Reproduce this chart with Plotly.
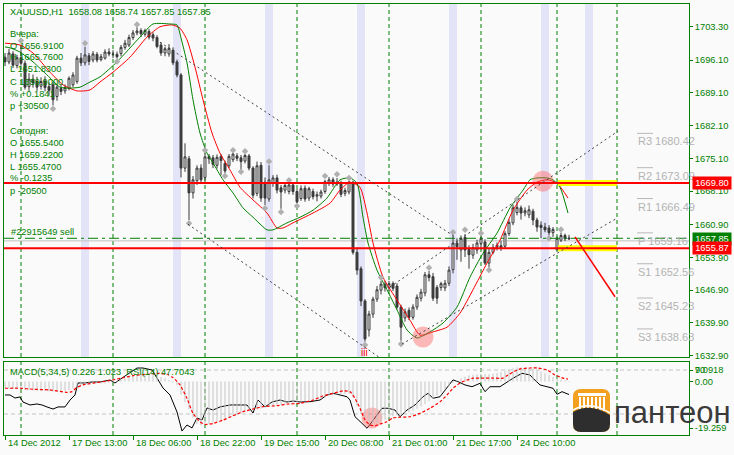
import plotly.graph_objects as go

# ---------------- data ----------------
bar_index = list(range(142))
opens = [1696.7,1695.7,1697.4,1694.9,1696.6,1695.4,1690.4,1692.0,1691.5,1690.5,
         1691.6,1690.4,1690.8,1688.3,1690.0,1689.5,1690.0,1690.8,1691.5,1696.5,
         1695.5,1697.0,1696.1,1697.3,1696.2,1696.5,1697.8,1697.4,1697.3,1697.5,
         1698.8,1699.3,1700.9,1701.9,1702.4,1701.6,1702.2,1701.5,1700.9,1699.3,
         1697.6,1697.4,1698.2,1695.7,1692.9,1673.0,1675.0,1667.7,1670.3,1673.0,
         1671.0,1675.5,1675.2,1673.6,1675.5,1674.0,1673.5,1674.8,1675.6,1675.2,
         1674.5,1675.6,1673.0,1667.6,1673.6,1670.0,1666.4,1669.9,1670.9,1668.8,
         1668.3,1668.0,1669.4,1668.0,1666.5,1668.7,1666.6,1668.0,1667.0,1667.0,
         1668.0,1669.8,1670.5,1669.6,1669.9,1667.6,1667.9,1670.0,1655.0,1651.5,
         1644.6,1638.4,1641.8,1645.0,1646.9,1648.2,1647.4,1648.3,1647.8,1643.3,
         1641.0,1642.6,1641.1,1643.3,1645.2,1646.3,1650.2,1649.8,1647.5,1647.5,
         1647.4,1648.4,1651.3,1657.0,1655.5,1658.2,1655.6,1654.4,1655.5,1656.91,
         1657.2,1652.7,1655.0,1656.1,1656.4,1656.3,1659.0,1661.3,1663.5,1664.5,
         1663.4,1663.0,1663.8,1661.9,1660.8,1660.4,1660.2,1659.2,1655.54,1657.6,
         1658.6,1658.08]
highs = [1697.6,1698.5,1698.0,1697.2,1699.3,1696.0,1693.3,1693.0,1692.5,1692.4,
         1692.6,1691.3,1691.4,1691.0,1690.8,1690.9,1692.6,1693.5,1697.0,1697.6,
         1698.9,1697.6,1698.0,1697.8,1697.4,1698.4,1698.6,1698.2,1697.9,1699.3,
         1700.4,1701.5,1702.5,1703.1,1702.9,1702.8,1702.7,1702.0,1701.4,1699.9,
         1698.9,1699.5,1698.8,1696.2,1693.3,1678.3,1675.6,1671.3,1673.6,1673.8,
         1676.2,1676.0,1675.8,1675.9,1676.0,1674.6,1676.0,1676.2,1676.2,1675.8,
         1676.0,1676.0,1673.4,1674.4,1674.3,1671.0,1673.6,1671.5,1671.6,1669.4,
         1669.9,1669.8,1670.0,1668.5,1669.3,1669.3,1669.0,1668.6,1668.0,1668.4,
         1670.5,1671.1,1671.0,1670.9,1670.3,1668.8,1670.3,1670.3,1656.0,1652.0,
         1645.0,1642.5,1645.5,1647.8,1648.9,1648.9,1648.9,1648.8,1648.4,1643.8,
         1643.0,1643.2,1643.9,1646.0,1647.2,1650.8,1651.0,1650.6,1648.0,1648.7,
         1649.1,1652.0,1658.5,1658.0,1658.6,1658.9,1656.5,1656.8,1657.7,1658.4,
         1657.8,1655.8,1656.8,1657.1,1657.5,1659.5,1662.0,1665.2,1665.76,1665.0,
         1664.6,1665.0,1664.3,1662.4,1661.6,1661.3,1660.8,1660.4,1658.4,1659.22,
         1659.0,1658.74]
lows = [1694.8,1695.2,1694.4,1694.3,1694.9,1689.8,1689.5,1690.2,1689.5,1689.8,
        1689.4,1688.5,1686.4,1687.4,1688.6,1688.9,1689.6,1690.3,1691.0,1694.8,
        1694.9,1695.0,1695.6,1695.6,1695.8,1696.2,1696.9,1696.5,1696.4,1696.9,
        1698.3,1698.9,1700.4,1701.4,1701.0,1701.1,1700.5,1700.1,1698.6,1697.0,
        1696.9,1696.8,1695.0,1692.4,1671.0,1672.2,1661.9,1666.5,1669.4,1669.8,
        1670.3,1673.9,1673.0,1672.9,1671.5,1671.9,1673.0,1674.3,1674.5,1672.8,
        1674.0,1672.5,1666.5,1667.0,1665.8,1665.1,1665.8,1669.0,1667.6,1664.3,
        1667.6,1667.4,1667.3,1665.5,1666.0,1665.8,1666.0,1666.3,1665.9,1666.5,
        1667.5,1669.2,1669.0,1669.2,1666.8,1667.0,1667.4,1654.5,1650.2,1643.5,
        1635.9,1637.0,1641.0,1644.4,1646.0,1646.6,1646.8,1646.7,1642.8,1636.1,
        1640.2,1640.5,1640.6,1642.7,1644.5,1645.6,1648.8,1644.6,1644.0,1646.8,
        1646.7,1647.8,1650.5,1653.4,1653.0,1654.0,1651.5,1653.6,1654.7,1655.6,
        1652.3,1651.83,1654.6,1655.4,1655.3,1655.8,1658.5,1660.8,1662.9,1662.0,
        1662.7,1662.3,1660.8,1659.4,1658.0,1659.3,1658.6,1658.3,1655.47,1657.2,
        1657.4,1657.85]
closes = [1695.7,1697.6,1695.0,1696.6,1695.4,1690.3,1692.0,1691.2,1690.3,1691.5,
          1690.2,1689.6,1687.6,1690.3,1689.4,1690.2,1692.2,1692.9,1696.5,1695.5,
          1697.2,1695.8,1697.4,1696.1,1696.8,1697.8,1697.4,1697.3,1696.8,1698.8,
          1699.7,1700.9,1701.9,1702.3,1701.7,1702.4,1701.0,1700.8,1699.0,1697.6,
          1698.5,1698.6,1695.5,1692.9,1673.0,1675.4,1667.7,1670.5,1673.0,1670.5,
          1675.4,1675.0,1673.8,1675.3,1674.6,1672.4,1675.5,1676.0,1675.1,1674.4,
          1675.7,1673.0,1667.2,1673.5,1666.6,1666.6,1670.5,1670.9,1668.3,1667.9,
          1669.3,1669.4,1668.0,1665.8,1668.6,1666.4,1668.6,1666.9,1667.3,1667.9,
          1670.1,1670.5,1669.6,1670.0,1667.4,1668.2,1670.0,1655.0,1651.2,1644.6,
          1636.5,1641.8,1645.0,1647.0,1648.2,1647.4,1648.3,1647.3,1643.3,1639.0,
          1642.3,1641.1,1643.3,1645.4,1646.5,1650.2,1649.6,1645.2,1645.2,1648.3,
          1648.4,1651.2,1657.0,1656.2,1658.0,1655.5,1654.5,1656.0,1657.0,1658.0,
          1652.7,1655.0,1656.0,1656.5,1656.0,1659.0,1661.4,1664.5,1664.6,1663.4,
          1663.9,1664.1,1661.9,1660.4,1660.3,1659.8,1659.2,1659.9,1658.0,1658.6,
          1657.9,1657.85]

ma_fast_x = [0,1.25,3.75,7,11.25,13.75,16.25,18.75,21.25,23.75,28,33.75,37,41.25,43,
             44,45.5,47,48.75,50.5,52,54.5,57,59.5,62,65.5,67,70.5,73.75,77,80.5,83.75,
             86.25,88,89.5,90.75,93,95.5,98,100.5,103,106.25,109.5,113,116.25,119.5,
             123,126.25,129.5,131.25,133,135.5,137,138.75,140.75]
ma_fast_y = [1698.9,1698.7,1697.8,1695.7,1692.3,1690.3,1690.1,1690.3,1691.4,1692.5,
             1695.7,1701.0,1703.8,1703.8,1703.6,1700.8,1695.5,1687.6,1680.5,1676.2,
             1674.1,1670.5,1667.7,1664.5,1662.5,1659.8,1659.8,1661.3,1662.5,1664.0,
             1666.6,1670.5,1670.9,1669.8,1662.5,1657.0,1651.2,1647.0,1642.7,1638.4,
             1636.7,1638.0,1639.9,1643.3,1649.7,1654.8,1659.1,1664.5,1668.3,1670.5,
             1670.9,1670.9,1670.5,1668.9,1663.4]
ma_slow_x = [0,3.75,7,11.25,14.5,18,21.25,23.75,27,31.25,35.5,38.75,41.75,43.75,45.5,
             47.5,49.5,51.75,53.75,56.25,58.75,62,65.5,68,69.5,72,77,81.25,83.75,86.25,
             88.75,90.5,92,94.5,98,101.25,103.75,107,110.5,113.75,117,120.5,123.75,127,
             130.5,133,135.5,138,140.75]
ma_slow_y = [1699.7,1699.3,1697.6,1693.5,1690.8,1689.5,1689.7,1691.4,1693.5,1696.7,
             1701.0,1703.2,1703.6,1702.9,1700.4,1694.6,1687.6,1680.5,1676.2,1672.6,
             1668.9,1666.2,1663.4,1660.2,1660.2,1661.3,1663.4,1665.5,1668.3,1670.0,
             1668.9,1663.4,1657.0,1649.7,1644.8,1640.5,1637.3,1638.0,1639.0,1642.0,
             1647.0,1652.7,1657.6,1664.0,1668.3,1670.0,1670.5,1669.8,1666.6]

frac_up_x = [4,20,33,50,57,60,66,71,80,83,86,94,106,112,115,119,128,139]
frac_up_y = [1700.2,1699.7,1703.7,1676.8,1676.8,1676.6,1674.4,1670.4,1671.3,1671.7,
             1670.9,1649.6,1651.7,1659.3,1659.8,1659.1,1666.4,1659.9]
frac_dn_x = [12,28,46,55,59,65,69,73,90,99,121,136]
frac_dn_y = [1685.7,1695.8,1661.2,1671.3,1672.2,1664.4,1663.6,1664.9,1635.2,1635.4,
             1651.2,1658.0]

macd_hist = [-2.8,-2.9,-3.0,-3.1,-3.2,-3.4,-3.6,-3.7,-3.8,-3.9,-3.9,-4.0,-4.1,-4.1,-4.0,-3.8,-3.6,-3.0,
             -2.2,-1.6,-1.2,-1.0,-0.9,-0.8,-0.8,-0.7,-0.5,-0.4,
             0.2,0.8,1.4,2.0,2.5,2.9,3.1,3.2,3.1,2.9,2.5,1.9,1.3,
             0.6,-0.4,-1.5,-5.5,-8.5,-11.5,-15.0,-17.5,-18.2,-18.0,
             -17.6,-17.0,-16.5,-16.0,-15.4,-14.8,-14.2,-13.6,-13.0,-12.5,-12.1,-11.9,-11.6,-11.2,
             -10.9,-10.6,-10.3,-10.0,-9.7,-9.4,-9.1,-8.8,-8.6,
             -8.3,-8.1,-7.9,-7.6,-7.3,-7.0,-6.6,-6.1,-5.7,-5.4,-5.3,-5.2,-5.0,
             -6.5,-10.0,-13.5,-16.0,-17.3,-17.5,-17.0,-16.5,-15.8,
             -15.0,-14.4,-14.0,-13.7,-13.3,-12.8,-12.1,-11.3,-10.4,-9.3,-8.2,-7.0,-5.8,-4.6,-3.3,-2.0,-0.6,
             0.6,1.4,2.0,2.5,2.8,3.0,3.2,3.1,3.0,3.2,3.5,3.9,4.4,5.0,5.5,5.8,5.9,5.8,5.6,5.2,4.7,4.1,3.4,2.7,1.9,
             1.3,0.9,0.5,0.226]
signal_x = [0,3.75,7,11.25,15.5,16.75,18,19.5,22,25.5,28.75,32,35.5,38,40.5,42,43.75,45.5,47,
            48.75,50,52,54.5,57,59.5,62,64.5,68,70.5,73.75,77,79.5,82,84.5,86.25,87.5,88.75,
            90,91.25,92.5,93.75,95.5,97,98.75,101.25,103.75,106.25,108.75,110.5,112,113.75,
            115.5,117,119.25,122,124.5,125.75,127,128.75,131.25,133.25,135.5,137.5,139.5,140.75]
signal_y = [-2.8,-2.8,-3.2,-3.5,-4.5,-4.2,-2.4,-1.4,-0.7,0.2,1.3,2.4,3.0,3.4,3.0,1.6,-1.4,-7.0,
            -13.2,-16.7,-17.8,-17.4,-16.0,-14.2,-12.5,-11.4,-10.4,-10.0,-9.4,-9.0,-7.7,-6.0,-4.9,
            -3.9,-4.2,-7.0,-11.1,-15.9,-18.0,-18.4,-17.6,-16.7,-15.1,-14.8,-14.6,-13.2,-11.1,-8.4,
            -5.6,-2.8,-0.6,0.6,1.4,1.4,1.4,1.4,2.7,3.9,5.2,5.6,5.6,4.8,2.7,1.4,1.0]
rsi_x = [0,1.25,2.5,3.75,4.5,6.25,8,9.25,10.5,12,13.25,15,16.25,17.5,18.25,20,21.75,23.75,
         26.25,27.5,29.25,31.25,33,34.5,36.75,38,39.5,41.25,43,44.25,45.5,46.75,48,49.25,50.5,
         52,53.75,56.25,58.75,60.5,62,63.25,65,66.75,68.75,70.5,72,73.75,76.25,78.75,80.5,82,
         83.75,85.5,86.25,87.5,89.25,90.5,91.75,93,94.25,95.75,97.5,98.75,100.5,102.5,104.5,
         105.75,107,108.75,110.5,112,113.25,115,116.75,118.75,120,121.25,123.75,125,127,129.25,
         131.25,132,133.75,137,138,139.25,141]
rsi_y = [47.3,47.3,44.5,45.5,40.9,38.2,39.1,38.2,36.4,34.5,36.4,36.4,42.7,47.3,58.2,58.2,59.1,
         59.1,60.9,58.2,62.7,67.3,71.8,71.8,70.0,62.7,53.6,47.3,31.8,14.5,20.0,17.3,26.4,24.5,
         35.5,33.6,36.4,38.2,38.2,38.2,30.9,42.7,36.4,40.9,42.7,40.9,41.8,40.9,41.2,42.7,47.3,
         48.8,47.3,45.7,42.7,27.5,21.5,17.0,23.0,29.1,35.2,35.2,33.6,27.5,33.6,38.2,45.7,48.8,
         44.3,45.7,53.4,61.0,59.4,56.4,54.8,57.9,50.3,54.8,54.8,57.9,62.5,67.0,65.5,62.5,56.4,
         53.4,47.9,50.3,47.7]

price_ticks = [1703.30,1696.10,1689.10,1682.10,1675.10,1668.10,1660.90,1653.90,1646.90,1639.90,1632.90]
date_tick_bars = [0,16,32,48,64,80,96,112,128]
date_labels = ["14 Dec 2012","17 Dec 13:00","18 Dec 06:00","18 Dec 22:00","19 Dec 15:00",
               "20 Dec 08:00","21 Dec 01:00","21 Dec 17:00","24 Dec 10:00"]
separator_bars = [4,27,50,73,96,119,138,153]
band_bars = [20,43,66,89,112,135,146]
pivot_names = ["R3","R2","R1","P","S1","S2","S3"]
pivot_values = [1680.42,1673.09,1666.49,1659.16,1652.56,1645.23,1638.63]
level_high = 1669.80
level_low = 1655.87
bid_price = 1657.85
order_price = 1658.0
bid_line = 1657.45
yesterday = ["Вчера:","O 1656.9100","H 1665.7600","L 1651.8300","C 1659.9000","% +0.1841","p +30500"]
today = ["Сегодня:","O 1655.5400","H 1659.2200","L 1655.4700","% -0.1235","p -20500"]

# trend objects (bar index, price)
trend_lines = [((38.75,1699.9),(112.5,1658.3)),
               ((45.75,1661.0),(94.5,1632.0)),
               ((96.25,1647.6),(153.25,1680.9)),
               ((99.25,1635.4),(153.0,1662.3))]
red_ray = ((142.5,1658.3),(152.5,1645.5))
circle_x = [104.5,134.5]
circle_y = [1636.9,1670.2]
macd_circle_x = [91.75]
macd_circle_y = [26.4]

# ---------------- layout helpers ----------------
W, H = 734, 455
ML, MR, MT, MB = 4, 45, 4, 20
PW, PH = W - ML - MR, H - MT - MB
def PX(x): return (x - ML) / PW
def PY(y): return (H - MB - y) / PH
MAIN_BOT = PY(357)
SUB_TOP = PY(362)
GREEN = "#008000"
FONT = "Liberation Sans, Arial, sans-serif"
FS = 9.3

fig = go.Figure()

fig.add_trace(go.Candlestick(
    x=bar_index, open=opens, high=highs, low=lows, close=closes,
    increasing=dict(line=dict(color="#383838", width=1), fillcolor="#ffffff"),
    decreasing=dict(line=dict(color="#383838", width=1), fillcolor="#404040"),
    whiskerwidth=0, xaxis="x", yaxis="y", showlegend=False, hoverinfo="skip"))

fig.add_trace(go.Scatter(x=ma_slow_x, y=ma_slow_y, mode="lines",
                         line=dict(color="#ff0000", width=1, shape="spline", smoothing=0.6),
                         xaxis="x", yaxis="y", showlegend=False, hoverinfo="skip"))
fig.add_trace(go.Scatter(x=ma_fast_x, y=ma_fast_y, mode="lines",
                         line=dict(color="#008000", width=1, shape="spline", smoothing=0.6),
                         xaxis="x", yaxis="y", showlegend=False, hoverinfo="skip"))
fig.add_trace(go.Scatter(x=frac_up_x + frac_dn_x, y=frac_up_y + frac_dn_y, mode="markers",
                         marker=dict(symbol="diamond", size=5, color="#b0b0b0"),
                         xaxis="x", yaxis="y", showlegend=False, hoverinfo="skip"))
fig.add_trace(go.Scatter(x=circle_x, y=circle_y, mode="markers",
                         marker=dict(size=21, color="rgba(255,90,90,0.42)"),
                         xaxis="x", yaxis="y", showlegend=False, hoverinfo="skip"))

# sub window
fig.add_trace(go.Bar(x=bar_index, y=macd_hist, width=0.25, marker=dict(color="#c4c4c4", line=dict(width=0)),
                     xaxis="x2", yaxis="y3", showlegend=False, hoverinfo="skip"))
fig.add_trace(go.Scatter(x=signal_x, y=signal_y, mode="lines",
                         line=dict(color="#ff0000", width=1.2, dash="3px,2px", shape="spline", smoothing=0.5),
                         xaxis="x2", yaxis="y3", showlegend=False, hoverinfo="skip"))
fig.add_trace(go.Scatter(x=rsi_x, y=rsi_y, mode="lines", line=dict(color="#000000", width=1),
                         xaxis="x2", yaxis="y2", showlegend=False, hoverinfo="skip"))
fig.add_trace(go.Scatter(x=macd_circle_x, y=macd_circle_y, mode="markers",
                         marker=dict(size=21, color="rgba(255,90,90,0.42)"),
                         xaxis="x2", yaxis="y2", showlegend=False, hoverinfo="skip"))

shapes = []
for b in band_bars:
    shapes.append(dict(type="rect", xref="x", yref="paper", x0=b - 1, x1=b + 1, y0=MAIN_BOT, y1=1,
                       fillcolor="#e4e4f8", line=dict(width=0), layer="below"))
for s in separator_bars:
    for (a, c) in [(MAIN_BOT, 1), (0, SUB_TOP)]:
        shapes.append(dict(type="line", xref="x", yref="paper", x0=s, x1=s, y0=a, y1=c,
                           line=dict(color=GREEN, width=1, dash="4px,3px"), layer="below"))
for lv in (70, 30):
    shapes.append(dict(type="line", xref="paper", yref="y2", x0=0, x1=1, y0=lv, y1=lv,
                       line=dict(color="#c4c4c4", width=1, dash="4px,3px"), layer="below"))
shapes.append(dict(type="line", xref="paper", yref="y", x0=0, x1=1, y0=bid_line, y1=bid_line,
                   line=dict(color="#c0c0c0", width=1), layer="below"))
shapes.append(dict(type="line", xref="paper", yref="y", x0=0, x1=1, y0=order_price, y1=order_price,
                   line=dict(color=GREEN, width=1, dash="10px,4px,3px,4px")))
for lv in (level_high, level_low):
    shapes.append(dict(type="line", xref="x", yref="y", x0=138.25, x1=153, y0=lv, y1=lv,
                       line=dict(color="#ffff00", width=6)))
    shapes.append(dict(type="line", xref="paper", yref="y", x0=0, x1=1, y0=lv, y1=lv,
                       line=dict(color="#ff0000", width=2)))
for (p0, p1) in trend_lines:
    shapes.append(dict(type="line", xref="x", yref="y", x0=p0[0], y0=p0[1], x1=p1[0], y1=p1[1],
                       line=dict(color="#404040", width=1, dash="2px,3px")))
shapes.append(dict(type="line", xref="x", yref="y", x0=red_ray[0][0], y0=red_ray[0][1],
                   x1=red_ray[1][0], y1=red_ray[1][1], line=dict(color="#ff0000", width=1.5)))
for pv in pivot_values:
    shapes.append(dict(type="line", xref="x", yref="y", x0=158, x1=162, y0=pv, y1=pv,
                       line=dict(color="#b8b8b8", width=1)))

# logo (pixel coordinates converted to paper)
def path(cmds):
    out = []
    for c in cmds:
        if isinstance(c, str):
            out.append(c)
        else:
            out.append("%.5f,%.5f" % (PX(c[0]), PY(c[1])))
    return " ".join(out)
orange = path(["M", (581, 389), "L", (602, 389), "Q", (610, 389), (610, 397), "L", (610, 424),
               "Q", (610, 432), (602, 432), "L", (581, 432), "Q", (573, 432), (573, 424),
               "L", (573, 397), "Q", (573, 389), (581, 389), "Z"])
shapes.append(dict(type="path", xref="paper", yref="paper", path=orange,
                   fillcolor="#f3a01e", line=dict(width=0), layer="above"))
shapes.append(dict(type="rect", xref="paper", yref="paper", x0=PX(578), x1=PX(606), y0=PY(396), y1=PY(393),
                   fillcolor="#ffffff", line=dict(width=0), layer="above"))
for cx in (579, 583, 587, 591, 595, 599, 603):
    shapes.append(dict(type="rect", xref="paper", yref="paper", x0=PX(cx), x1=PX(cx + 2),
                       y0=PY(411), y1=PY(397), fillcolor="#ffffff", line=dict(width=0), layer="above"))
black = path(["M", (573, 412), "Q", (590, 402), (610, 415), "L", (610, 424), "Q", (610, 432), (602, 432),
              "L", (581, 432), "Q", (573, 432), (573, 424), "Z"])
shapes.append(dict(type="path", xref="paper", yref="paper", path=black,
                   fillcolor="#2e2e2e", line=dict(width=0), layer="above"))
shapes.append(dict(type="path", xref="paper", yref="paper",
                   path=path(["M", (573, 410), "Q", (590, 400), (610, 413)]),
                   line=dict(color="#ffffff", width=1.5), layer="above"))

ann = []
def txt(x, y, s, color=GREEN, size=FS, anchor="left", **kw):
    ann.append(dict(x=PX(x), y=PY(y), xref="paper", yref="paper", text=s, showarrow=False,
                    xanchor=anchor, yanchor="middle", font=dict(family=FONT, size=size, color=color), **kw))

txt(8, 12, "XAUUSD,H1  1658.08 1658.74 1657.85 1657.85")
for k, s in enumerate(yesterday):
    txt(8, [34, 46, 57, 69, 82, 94, 106][k], s)
for k, s in enumerate(today):
    txt(8, [131, 143, 155, 167, 178, 191][k], s)
txt(9, 232, "#22915649 sell")
txt(8, 372, "MACD(5,34,5) 0.226 1.023  RSI(14) 47.7043")
txt(693, 370, "9.0918")
txt(612, 412, "пантеон", color="#3a3a3a", size=31)

for name, pv in zip(pivot_names, pivot_values):
    ann.append(dict(x=PX(636), y=pv, xref="paper", yref="y", text="%s %.2f" % (name, pv), showarrow=False,
                    xanchor="left", yanchor="middle", yshift=-8,
                    font=dict(family=FONT, size=11, color="#b4b4b4")))
for b, lab in zip(date_tick_bars, date_labels):
    ann.append(dict(x=b, y=PY(443), xref="x2", yref="paper", text=lab, showarrow=False,
                    xanchor="left", yanchor="middle", xshift=1,
                    font=dict(family=FONT, size=FS, color=GREEN)))
for val, bg in [(level_high, "#ff0000"), (bid_price, "#008000"), (level_low, "#ff0000")]:
    ann.append(dict(x=PX(692), y=val, xref="paper", yref="y", text="%.2f" % val, showarrow=False,
                    xanchor="left", yanchor="middle", bgcolor=bg, borderpad=1, width=36, align="center",
                    font=dict(family=FONT, size=FS, color="#ffffff")))
ann.append(dict(x=89.75, y=1633.6, xref="x", yref="y", text="iii", showarrow=False,
                font=dict(family=FONT, size=10, color="#ff0000")))

axis_common = dict(showgrid=False, zeroline=False, showline=True, mirror=True, linecolor=GREEN, linewidth=1)
fig.update_layout(
    width=W, height=H, margin=dict(l=ML, r=MR, t=MT, b=MB),
    paper_bgcolor="#fafafa", plot_bgcolor="#fafafa", showlegend=False, barmode="overlay",
    xaxis=dict(domain=[0, 1], range=[-0.25, 171], anchor="y", showticklabels=False, ticks="",
               rangeslider=dict(visible=False), **axis_common),
    yaxis=dict(domain=[MAIN_BOT, 1], range=[1632.63, 1708.07], side="right", anchor="x",
               tickvals=price_ticks, ticktext=["%.2f" % v for v in price_ticks],
               ticks="outside", ticklen=3, tickcolor=GREEN,
               tickfont=dict(family=FONT, size=FS, color=GREEN), **axis_common),
    xaxis2=dict(domain=[0, 1], range=[-0.25, 171], anchor="y2", matches="x", showticklabels=False,
                tickvals=date_tick_bars, ticks="outside", ticklen=4, tickcolor=GREEN, **axis_common),
    yaxis2=dict(domain=[0, SUB_TOP], range=[10.9, 77.27], side="right", anchor="x2",
                tickvals=[70, 30], ticktext=["70", ""], ticks="outside", ticklen=3, tickcolor=GREEN,
                tickfont=dict(family=FONT, size=FS, color=GREEN), **axis_common),
    yaxis3=dict(overlaying="y2", range=[-22.16, 8.08], side="right", anchor="x2",
                tickvals=[0, -19.259], ticktext=["0.00", "-19.259"], ticks="outside", ticklen=3,
                tickcolor=GREEN, tickfont=dict(family=FONT, size=FS, color=GREEN),
                showgrid=False, zeroline=False, showline=False),
    shapes=shapes, annotations=ann,
)
fig.write_html("out.html", config={"displayModeBar": False, "staticPlot": True},
               post_script="document.body.style.margin='0';document.body.style.padding='0';"
                           "document.documentElement.style.overflow='hidden';")
